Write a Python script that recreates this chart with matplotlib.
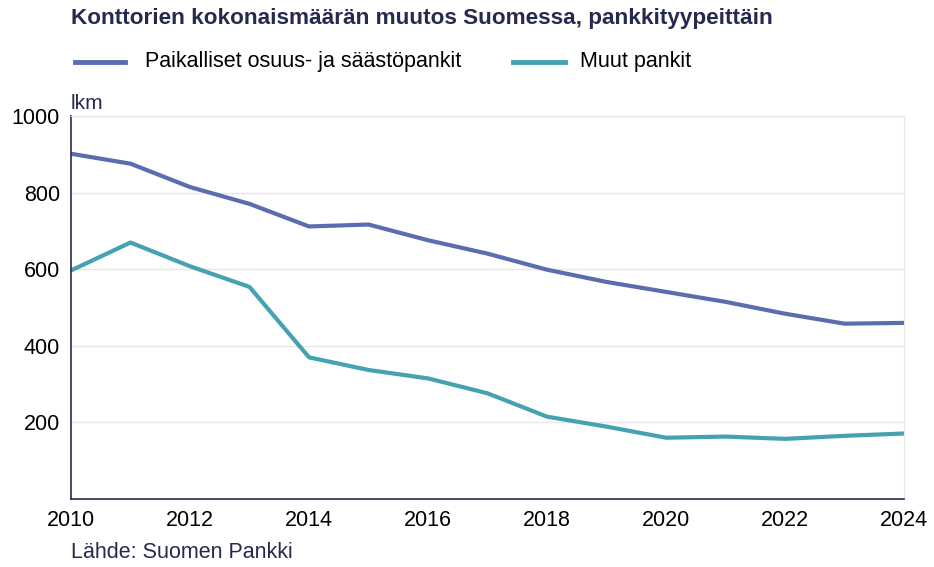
import matplotlib
matplotlib.use('Agg')
import matplotlib.pyplot as plt

plt.rcParams['font.family'] = ['Liberation Sans', 'DejaVu Sans']

# data
years = list(range(2010, 2025))
paikalliset = [902, 876, 815, 771, 712, 717, 676, 641, 599, 567, 541, 515, 484, 458, 460]
muut = [597, 670, 608, 554, 370, 337, 315, 276, 215, 189, 160, 163, 157, 165, 171]

labels = ['Paikalliset osuus- ja säästöpankit', 'Muut pankit']
colors = ['#5b6daf', '#45a2b0']
navy = '#262a4f'

fig = plt.figure(figsize=(9.34, 5.67), dpi=100)
ax = fig.add_axes([0.076, 0.12, 0.892, 0.675])

ax.plot(years, paikalliset, color=colors[0], lw=3, solid_capstyle='butt')
ax.plot(years, muut, color=colors[1], lw=3, solid_capstyle='butt')

ax.set_xlim(2010, 2024)
ax.set_ylim(0, 1000)
ax.set_xticks(range(2010, 2025, 2))
ax.set_yticks([200, 400, 600, 800, 1000])
ax.tick_params(axis='both', length=0, labelsize=15.5, colors='black', pad=8)
ax.grid(axis='y', color='#e6e6e6', lw=1)
ax.set_axisbelow(True)

for s in ['left', 'bottom']:
    ax.spines[s].set_color(navy)
    ax.spines[s].set_linewidth(1.2)
ax.spines['top'].set_color('#e6e6e6')
ax.spines['right'].set_color('#e6e6e6')

fig.text(0.076, 0.968, 'Konttorien kokonaismäärän muutos Suomessa, pankkityypeittäin',
         fontsize=16.2, fontweight='bold', color=navy, va='center')

# legend drawn by hand in figure coords
fig.lines.append(plt.Line2D([0.080, 0.134], [0.891, 0.891], color=colors[0], lw=3.5,
                            transform=fig.transFigure))
fig.text(0.155, 0.891, labels[0], fontsize=15.5, color='black', va='center')
fig.lines.append(plt.Line2D([0.549, 0.605], [0.891, 0.891], color=colors[1], lw=3.5,
                            transform=fig.transFigure))
fig.text(0.621, 0.891, labels[1], fontsize=15.5, color='black', va='center')

fig.text(0.076, 0.818, 'lkm', fontsize=15, color=navy, va='center')
fig.text(0.076, 0.025, 'Lähde: Suomen Pankki', fontsize=15.5, color=navy, va='center')

plt.savefig('out.png', dpi=100)
